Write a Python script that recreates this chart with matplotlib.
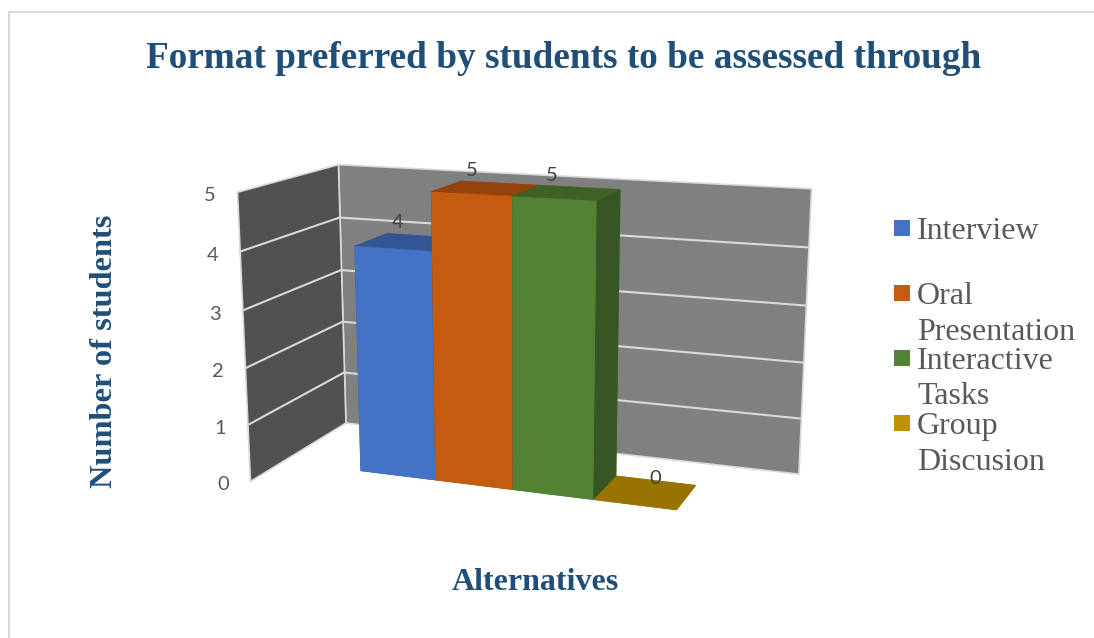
import matplotlib
matplotlib.use('Agg')
import matplotlib.pyplot as plt
from matplotlib.patches import Rectangle
from mpl_toolkits.mplot3d import proj3d
from mpl_toolkits.mplot3d.art3d import Poly3DCollection

alternatives = ['Interview', 'Oral\nPresentation', 'Interactive\nTasks', 'Group\nDiscusion']
students = [4, 5, 5, 0]
value_ticks = [0, 1, 2, 3, 4, 5]

front_colors = ['#4472C4', '#C55A11', '#548235', '#BF9000']
top_colors = ['#335593', '#94430D', '#3F6128', '#997300']
side_colors = ['#2F5597', '#843C0C', '#375623', '#7F6000']

TITLE_BLUE = '#1F4E79'
WIDTH, HEIGHT = 1094, 638
S = 600
CX, CY = 518, 345

# bar footprint inside the 6 x 1 floor
BAR_START, BAR_W = 1.06, 0.975
BAR_Y, BAR_D = 0.31, 0.36

fig = plt.figure(figsize=(WIDTH / 100, HEIGHT / 100), dpi=100)
ax = fig.add_axes([(CX - S / 2) / WIDTH, 1 - (CY + S / 2) / HEIGHT, S / WIDTH, S / HEIGHT],
                  projection='3d', computed_zorder=False)
ax.set_xlim(0, 6)
ax.set_ylim(0, 1)
ax.set_zlim(0, 5)
ax.set_box_aspect((533, 221, 304), zoom=1.0266)
ax.view_init(elev=13.9, azim=-69.8)
ax.set_proj_type('persp', focal_length=0.48)
ax.set_axis_off()

# walls
back = [(0, 1, 0), (6, 1, 0), (6, 1, 5), (0, 1, 5)]
left = [(0, 0, 0), (0, 1, 0), (0, 1, 5), (0, 0, 5)]
ax.add_collection3d(Poly3DCollection([back], facecolor='#808080', edgecolor='#D9D9D9', linewidth=1.2, zorder=1))
ax.add_collection3d(Poly3DCollection([left], facecolor='#515151', edgecolor='#D9D9D9', linewidth=1.2, zorder=1.1))

# gridlines
for v in value_ticks[1:-1]:
    ax.plot([0, 0, 6], [0, 1, 1], [v, v, v], color='#D9D9D9', lw=1.5, zorder=2)

# bars, painted left to right so the right hand one stays on top
order = [3, 0, 1, 2]
for z, i in enumerate(order):
    faces = [top_colors[i], top_colors[i], front_colors[i], front_colors[i], side_colors[i], side_colors[i]]
    ax.bar3d(BAR_START + i * BAR_W, BAR_Y, 0, BAR_W, BAR_D, students[i], color=faces, shade=False,
             linewidth=0, zorder=3 + z)


def label_3d(x, y, z, text, dx, dy, color):
    # annotate in the 2d view plane so the label can be nudged in points
    x2, y2, _ = proj3d.proj_transform(x, y, z, ax.get_proj())
    ax.annotate(text, xy=(x2, y2), xytext=(dx, dy), textcoords='offset points', ha='center', va='center',
                fontsize=14.5, color=color, family='Lato', zorder=10, annotation_clip=False)


label_nudge = [(-9, 14), (-11, 12.5), (-11.5, 12), (6.5, 9.5)]
for i, v in enumerate(students):
    label_3d(BAR_START + (i + 0.5) * BAR_W, 0.5, v, str(v), label_nudge[i][0], label_nudge[i][1], '#404040')

for v in value_ticks:
    label_3d(0, 0, v, str(v), -19.5, -2.5, '#595959')

# overlay in pixel units for the chart furniture
over = fig.add_axes([0, 0, 1, 1])
over.set_xlim(0, WIDTH)
over.set_ylim(HEIGHT, 0)
over.axis('off')
over.plot([9, 9, WIDTH], [HEIGHT, 12, 12], color='#D9D9D9', lw=1.5)

serif = 'Liberation Serif'
over.text(563.5, 58, 'Format preferred by students to be assessed through', ha='center', va='center',
          family=serif, weight='bold', fontsize=26.85, color=TITLE_BLUE)
over.text(535, 583, 'Alternatives', ha='center', va='center',
          family=serif, weight='bold', fontsize=23, color=TITLE_BLUE)
over.text(104.5, 351, 'Number of students', ha='center', va='center', rotation=90,
          family=serif, weight='bold', fontsize=23.3, color=TITLE_BLUE)

legend_y = [228, 293, 358, 423]
for name, c, y in zip(alternatives, front_colors, legend_y):
    over.add_patch(Rectangle((894, y - 8), 16, 16, facecolor=c, edgecolor='none'))
    for k, line in enumerate(name.split('\n')):
        over.text(917, y + 11 + k * 35.5, line, ha='left', va='baseline', family=serif, fontsize=23,
                  color='#595959')

fig.savefig('out.png', dpi=100)
